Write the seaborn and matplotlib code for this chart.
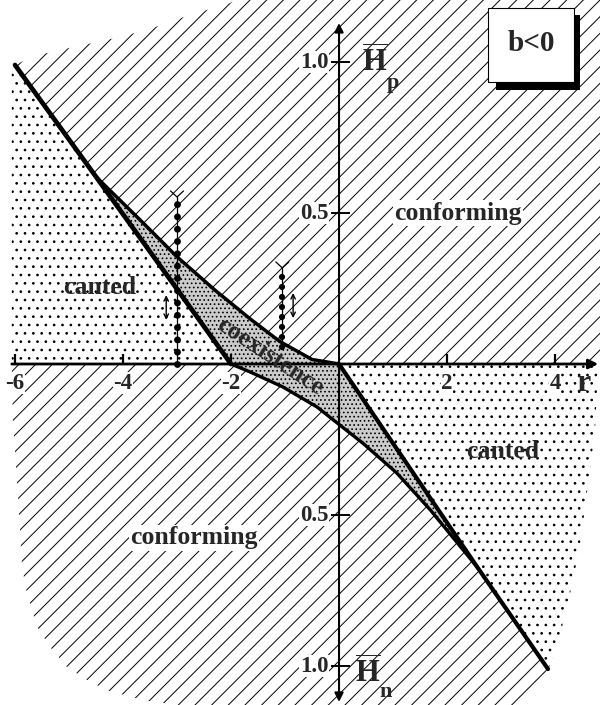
import matplotlib
matplotlib.use("Agg")
import matplotlib.pyplot as plt
import seaborn as sns
from matplotlib.patches import Rectangle

sns.set_style("white")
plt.rcParams["font.family"] = ["Liberation Serif", "DejaVu Serif"]
plt.rcParams["font.weight"] = "bold"
plt.rcParams["hatch.linewidth"] = 0.7
plt.rcParams["mathtext.fontset"] = "custom"
plt.rcParams["mathtext.rm"] = "Liberation Serif:bold"
plt.rcParams["mathtext.bf"] = "Liberation Serif:bold"

# Phase boundaries in the (r, H) plane; H > 0 is H_p, H < 0 is H_n
canted_edge_r = [-6.0, -4.5, -2.0]
canted_edge_h = [0.99, 0.62, 0.0]
coex_upper_r = [-4.5, -3.7, -3.0, -2.3, -1.65, -1.1, -0.5, 0.0]
coex_upper_h = [0.62, 0.48, 0.355, 0.245, 0.15, 0.075, 0.015, 0.0]
coex_lower_r = [-2.0, -1.65, -1.04, -0.41, 0.0, 0.44, 1.07, 1.69, 2.30, 2.57]
coex_lower_h = [0.0, -0.026, -0.076, -0.142, -0.2, -0.262, -0.361, -0.483, -0.616, -0.675]
canted_right_r = [0.0, 2.57, 3.87]
canted_right_h = [0.0, -0.675, -1.01]

# Outer edges of the mapped domain
top_edge_r = [-6.0, -5.69, -5.26, -4.83, -4.30, -3.56, -2.76, -2.02, -1.83]
top_edge_h = [0.99, 1.017, 1.036, 1.053, 1.073, 1.106, 1.156, 1.195, 1.212]
bottom_edge_r = [-6.06, -6.04, -5.94, -5.87, -5.78, -5.59, -5.35, -5.04, -4.67,
                 -4.30, -3.63, -2.94, 3.26, 3.63, 3.87]
bottom_edge_h = [0.0, -0.185, -0.45, -0.672, -0.758, -0.871, -0.937, -1.003, -1.046,
                 -1.08, -1.113, -1.13, -1.13, -1.08, -1.01]
right_edge_r = [4.80, 4.74, 4.59, 4.46, 4.28, 4.04, 3.87]
right_edge_h = [0.0, -0.219, -0.427, -0.606, -0.758, -0.937, -1.013]

# Sample paths (dotted columns) at fixed r
path_r = [-3.0, -1.05]
path_lo = [0.0, 0.056]
path_hi = [0.533, 0.295]
path_top = [0.553, 0.318]
path_gap = [1.77, 1.6]
path_lw = [5.0, 4.5]
arrow_r = [-3.2, -0.85]
arrow_lo = [0.146, 0.152]
arrow_hi = [0.228, 0.235]

r_ticks = [-6, -4, -2, 2, 4]
h_ticks = [1.0, 0.5, -0.5, -1.0]
h_tick_labels = ["1.0", "0.5", "0.5", "1.0"]

R_MIN, R_MAX = -6.278, 4.833
H_MIN, H_MAX = -1.1291, 1.2053

fig = plt.figure(figsize=(6, 7.05), dpi=100)
ax = fig.add_axes([0, 0, 1, 1])
ax.set_xlim(R_MIN, R_MAX)
ax.set_ylim(H_MIN, H_MAX)
ax.axis("off")

# --- regions ---
hatch_kw = dict(facecolor="white", edgecolor="black", linewidth=0, zorder=1)

# upper conforming
up_r = top_edge_r + [R_MAX + 0.1, R_MAX + 0.1] + coex_upper_r[::-1] + [canted_edge_r[0]]
up_h = top_edge_h + [H_MAX + 0.1, 0.0] + coex_upper_h[::-1] + [canted_edge_h[0]]
ax.fill(up_r, up_h, hatch="//", **hatch_kw)

# lower conforming
lo_r = [bottom_edge_r[0]] + coex_lower_r + canted_right_r[2:] + bottom_edge_r[::-1]
lo_h = [0.0] + coex_lower_h + canted_right_h[2:] + bottom_edge_h[::-1]
ax.fill(lo_r, lo_h, hatch="//", **hatch_kw)

# canted (left)
cl_r = [-6.06] + canted_edge_r + [-6.06]
cl_h = [0.985] + canted_edge_h + [0.0]
ax.fill(cl_r, cl_h, hatch="..", **hatch_kw)

# canted (right)
cr_r = [0.0] + right_edge_r + canted_right_r[::-1]
cr_h = [0.0] + right_edge_h + canted_right_h[::-1]
ax.fill(cr_r, cr_h, hatch="..", **hatch_kw)

# coexistence
co_r = coex_upper_r + canted_right_r[1:2] + coex_lower_r[::-1] + canted_edge_r[1:2]
co_h = coex_upper_h + canted_right_h[1:2] + coex_lower_h[::-1] + canted_edge_h[1:2]
ax.fill(co_r, co_h, facecolor="#cccccc", edgecolor="black", linewidth=0,
        hatch="....", zorder=1)

# --- boundaries ---
line_kw = dict(ax=ax, color="black", sort=False, estimator=None,
               solid_capstyle="round", solid_joinstyle="round", zorder=3)
sns.lineplot(x=canted_edge_r, y=canted_edge_h, lw=3.4, **line_kw)
sns.lineplot(x=coex_upper_r, y=coex_upper_h, lw=2.5, **line_kw)
sns.lineplot(x=coex_lower_r, y=coex_lower_h, lw=2.4, **line_kw)
sns.lineplot(x=canted_right_r, y=canted_right_h, lw=3.0, **line_kw)

# --- axes with arrows ---
ax.annotate("", xy=(4.80, 0), xytext=(-6.06, 0),
            arrowprops=dict(arrowstyle="-|>", lw=2, color="black",
                            mutation_scale=14, shrinkA=0, shrinkB=0), zorder=4)
ax.annotate("", xy=(0, 1.129), xytext=(0, -1.119),
            arrowprops=dict(arrowstyle="<|-|>", lw=1.5, color="black",
                            mutation_scale=13, shrinkA=0, shrinkB=0), zorder=4)
ax.vlines(r_ticks, 0, 0.033, color="black", lw=1.6, zorder=4)
ax.hlines(h_ticks, -0.15, 0.2, color="black", lw=1.4, zorder=4)

lab_box = dict(facecolor="white", edgecolor="none", pad=0.5)
for v in r_ticks:
    ax.text(v, -0.063, f"{v:d}", ha="center", va="center", fontsize=16.5,
            fontweight="bold", bbox=lab_box, zorder=5)
for v, s in zip(h_ticks, h_tick_labels):
    ax.text(-0.2, v, s, ha="right", va="center", fontsize=16.5,
            fontweight="bold", bbox=lab_box, zorder=5)
ax.text(4.52, -0.063, "r", ha="center", va="center", fontsize=23,
        fontweight="bold", zorder=5)

ax.text(0.426, 0.967, r"$\overline{\mathrm{H}}$", ha="left", va="baseline",
        fontsize=22, zorder=5)
ax.text(0.89, 0.914, "p", ha="left", va="baseline", fontsize=16,
        fontweight="bold", zorder=5)
ax.text(0.296, -1.056, r"$\overline{\mathrm{H}}$", ha="left", va="baseline",
        fontsize=22, zorder=5)
ax.text(0.74, -1.103, "n", ha="left", va="baseline", fontsize=16,
        fontweight="bold", zorder=5)

# --- sample paths ---
for r, lo, hi, top, gap, lw in zip(path_r, path_lo, path_hi, path_top, path_gap, path_lw):
    sns.lineplot(x=[r, r], y=[lo, top], ax=ax, color="black", lw=0.9,
                 sort=False, estimator=None, zorder=4)
    sns.lineplot(x=[r, r], y=[lo, hi], ax=ax, color="black", lw=lw,
                 linestyle=(0, (0.001, gap)), dash_capstyle="round",
                 sort=False, estimator=None, zorder=4)
    sns.lineplot(x=[r - 0.12, r, r + 0.12], y=[top + 0.02, top, top + 0.02],
                 ax=ax, color="black", lw=0.9, sort=False, estimator=None, zorder=4)

for r, lo, hi in zip(arrow_r, arrow_lo, arrow_hi):
    ax.annotate("", xy=(r, hi), xytext=(r, lo),
                arrowprops=dict(arrowstyle="<->", lw=1.0, color="black",
                                mutation_scale=8, shrinkA=0, shrinkB=0), zorder=4)

# --- region labels ---
txt_box = dict(facecolor="white", edgecolor="none", pad=1.0)
ax.text(2.20, 0.50, "conforming", ha="center", va="center", fontsize=18.5,
        fontweight="bold", bbox=txt_box, zorder=5)
ax.text(-2.69, -0.576, "conforming", ha="center", va="center", fontsize=18.5,
        fontweight="bold", bbox=txt_box, zorder=5)
ax.text(-4.43, 0.252, "canted", ha="center", va="center", fontsize=18.5,
        fontweight="bold", zorder=5)
ax.text(3.04, -0.291, "canted", ha="center", va="center", fontsize=18.5,
        fontweight="bold", zorder=5)
ax.text(-1.28, 0.026, "coexistence", ha="center", va="center", fontsize=18.5,
        fontweight="bold", rotation=-33.4, rotation_mode="anchor", zorder=5)

# --- sign-of-b box with drop shadow ---
ax.add_patch(Rectangle((0.8267, 0.8723), 0.14, 0.1064, transform=ax.transAxes,
                       facecolor="black", edgecolor="none", zorder=6))
ax.add_patch(Rectangle((0.8133, 0.8837), 0.1433, 0.105, transform=ax.transAxes,
                       facecolor="white", edgecolor="black", lw=0.8, zorder=7))
ax.text(0.885, 0.939, "b<0", transform=ax.transAxes, ha="center", va="center",
        fontsize=21, fontweight="bold", zorder=8)

fig.savefig("out.png", dpi=100)
